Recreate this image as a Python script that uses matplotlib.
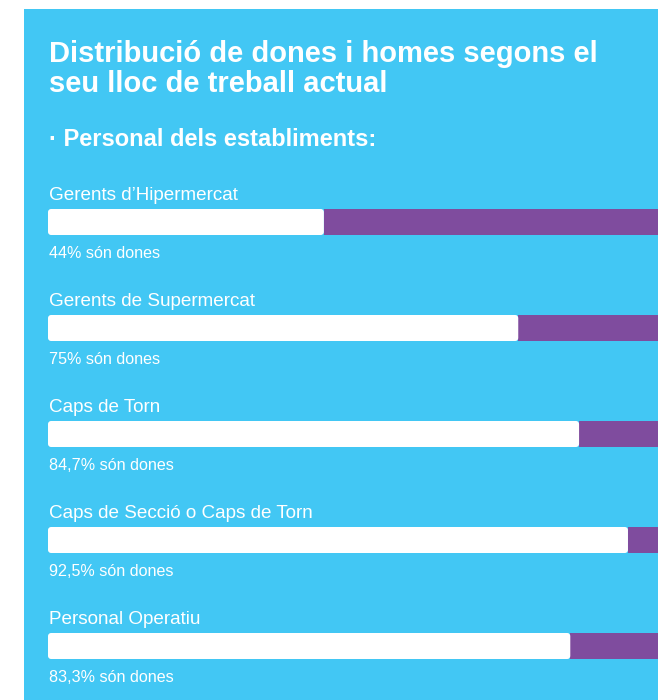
import matplotlib
matplotlib.use("Agg")
import matplotlib.pyplot as plt
from matplotlib.patches import FancyBboxPatch, Rectangle

# Dades
categories = ["Gerents d\u2019Hipermercat", "Gerents de Supermercat", "Caps de Torn",
              "Caps de Secci\u00f3 o Caps de Torn", "Personal Operatiu"]
pct_dones = [44, 75, 84.7, 92.5, 83.3]
pct_labels = ["44%", "75%", "84,7%", "92,5%", "83,3%"]

blau = "#42C7F4"
lila = "#7F4C9E"
plt.rcParams["font.family"] = ["Liberation Sans", "DejaVu Sans"]

fig = plt.figure(figsize=(6.58, 7.0), dpi=100)
fig.patch.set_facecolor("white")
fig.patches.append(Rectangle((24 / 658, 0), 1, 1 - 9 / 700, transform=fig.transFigure,
                             facecolor=blau, edgecolor="none", zorder=-5))

ax = fig.add_axes([0, 0, 1, 1])
ax.set_facecolor("none")
ax.set_zorder(2)
px_x = 6.27   # pixels per percent
px_y = 106    # pixels per row
ax.set_xlim(-48 / px_x, (658 - 48) / px_x)
ax.set_ylim((700 - 222) / px_y, -222 / px_y)
ax.axis("off")

h = 26 / px_y
tx = 1 / px_x
for i, (cat, v, lab) in enumerate(zip(categories, pct_dones, pct_labels)):
    ax.barh(i, 100 - v, left=v, height=h, color=lila, zorder=1)
    box = FancyBboxPatch((0, i - h / 2), v, h,
                         boxstyle="round,pad=0,rounding_size=0.5",
                         mutation_aspect=px_x / px_y,
                         facecolor="white", edgecolor="none", zorder=2)
    ax.add_patch(box)
    ax.text(tx, i - 27 / px_y, cat, color="white", fontsize=13.6, va="center", ha="left")
    ax.text(tx, i + 32 / px_y, lab + " s\u00f3n dones", color="white", fontsize=11.6,
            va="center", ha="left")

fig.text(49 / 658, 1 - 69 / 700, "Distribuci\u00f3 de dones i homes segons el\nseu lloc de treball actual",
         color="white", fontsize=21, fontweight="bold", va="center", ha="left", linespacing=1.08)
fig.text(49 / 658, 1 - 140 / 700, "\u00b7 Personal dels establiments:", color="white",
         fontsize=17, fontweight="bold", va="center", ha="left")

fig.savefig("out.png", dpi=100)
